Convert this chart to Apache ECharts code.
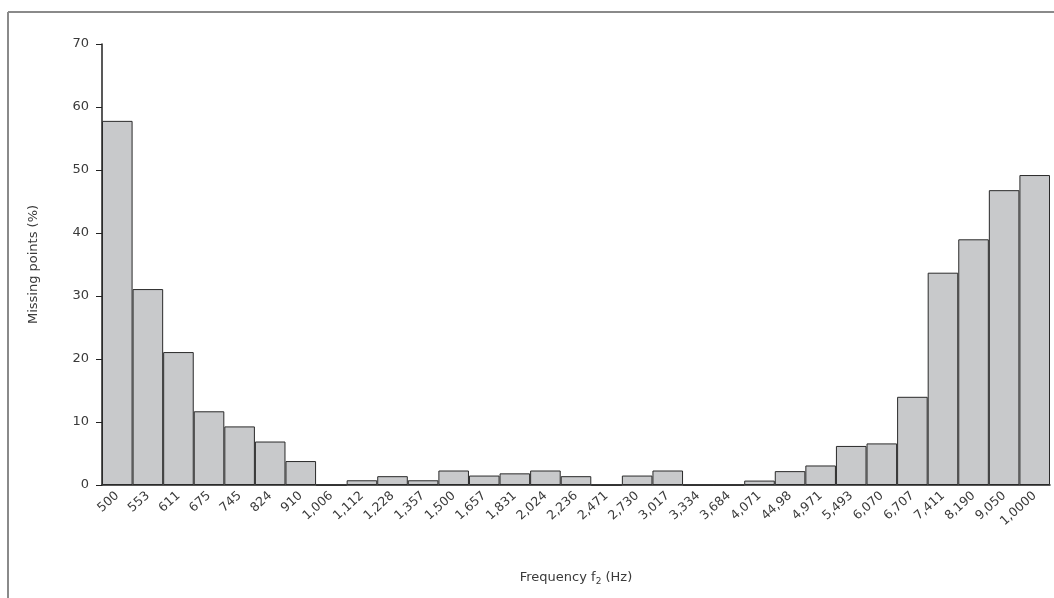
<!DOCTYPE html>
<html><head><meta charset="utf-8">
<script src="https://cdn.jsdelivr.net/npm/echarts@6/dist/echarts.min.js"></script>
<style>html,body{margin:0;padding:0;background:#fff}#c{width:1054px;height:598px}</style>
</head><body><div id="c"></div>
<script>
const categories = ["500","553","611","675","745","824","910","1,006","1,112","1,228","1,357","1,500","1,657","1,831","2,024","2,236","2,471","2,730","3,017","3,334","3,684","4,071","44,98","4,971","5,493","6,070","6,707","7,411","8,190","9,050","1,0000"];
const missing = [57.8,31.1,21.1,11.7,9.3,6.9,3.8,0,0.75,1.4,0.75,2.3,1.5,1.85,2.3,1.4,0,1.5,2.3,0,0,0.7,2.2,3.1,6.2,6.6,14.0,33.7,39.0,46.8,49.2];
const yTicks = {min:0, max:70, interval:10};

const chart = echarts.init(document.getElementById('c'), null, {renderer:'canvas'});
const font = '"DejaVu Sans", sans-serif';
chart.setOption({
  animation:false,
  grid:{left:102,right:4,top:44,bottom:113,containLabel:false},
  graphic:[
    {type:'line',shape:{x1:8,y1:12,x2:1054,y2:12},style:{stroke:'#8a8a8a',lineWidth:2}},
    {type:'line',shape:{x1:8,y1:12,x2:8,y2:598},style:{stroke:'#8a8a8a',lineWidth:2}}
  ],
  xAxis:{
    type:'category',data:categories,
    axisLine:{lineStyle:{color:'#222',width:1.5}},
    axisTick:{show:false},
    axisLabel:{rotate:42,color:'#3a3a3a',fontFamily:font,fontSize:12.5,interval:0,margin:9},
    name:'{a|Frequency f}{s|2}{a| (Hz)}',nameLocation:'middle',nameGap:84,
    nameTextStyle:{rich:{a:{fontFamily:font,fontSize:13,color:'#3a3a3a'},s:{fontFamily:font,fontSize:9,color:'#3a3a3a',verticalAlign:'bottom',padding:[8,0,0,0]}}}
  },
  yAxis:{
    type:'value',min:yTicks.min,max:yTicks.max,interval:yTicks.interval,
    axisLine:{show:true,lineStyle:{color:'#222',width:1.5}},
    axisTick:{show:true,length:6,lineStyle:{color:'#222'}},
    splitLine:{show:false},
    axisLabel:{color:'#3a3a3a',fontFamily:font,fontSize:13,margin:13},
    name:'Missing points (%)',nameLocation:'middle',nameGap:62,
    nameTextStyle:{fontFamily:font,fontSize:13,color:'#3a3a3a'}
  },
  series:[{
    type:'bar',data:missing,barCategoryGap:'0%',
    itemStyle:{color:'#c8c9cb',borderColor:'#2a2a2a',borderWidth:1}
  }]
});
</script></body></html>
